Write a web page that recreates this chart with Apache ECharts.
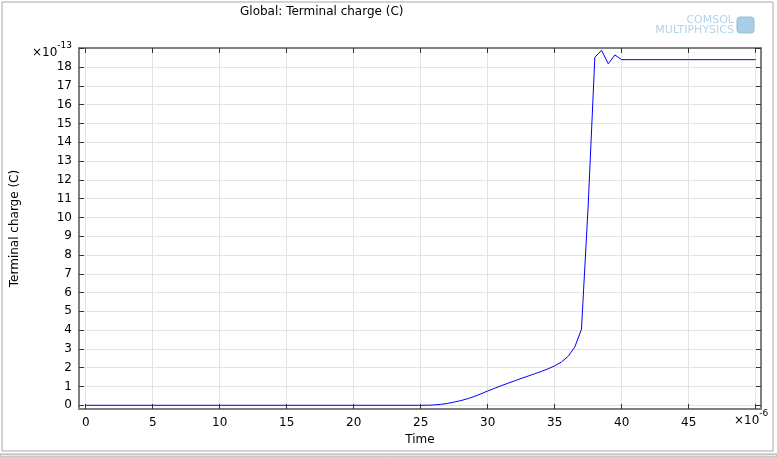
<!DOCTYPE html>
<html>
<head>
<meta charset="utf-8">
<script src="https://cdn.jsdelivr.net/npm/echarts@6/dist/echarts.min.js"></script>
<style>
  html, body { margin: 0; padding: 0; background: #fff; }
  #chart-container { width: 777px; height: 457px; }
</style>
</head>
<body>
<div id="chart-container"></div>
<script>
// time in 1e-6 s, charge in 1e-13 C
const times = [0, 25, 25.5, 26, 26.5, 27, 27.5, 28, 28.5, 29, 29.5, 30, 30.5, 31, 31.5, 32, 32.5,
  33, 33.5, 34, 34.5, 35, 35.5, 36, 36.5, 37, 37.5, 38, 38.5, 39, 39.5, 40, 45, 50];
const charges = [0, 0, 0.005, 0.02, 0.05, 0.1, 0.17, 0.25, 0.35, 0.47, 0.61, 0.76, 0.9, 1.04, 1.17, 1.3, 1.43,
  1.55, 1.68, 1.8, 1.94, 2.1, 2.3, 2.6, 3.1, 4.05, 10.6, 18.53, 18.9, 18.18, 18.65, 18.4, 18.4, 18.4];
const xTicks = [0, 5, 10, 15, 20, 25, 30, 35, 40, 45, 50];
const xLabels = [0, 5, 10, 15, 20, 25, 30, 35, 40, 45];
const yTicks = [0, 1, 2, 3, 4, 5, 6, 7, 8, 9, 10, 11, 12, 13, 14, 15, 16, 17, 18, 19];
const yLabels = [0, 1, 2, 3, 4, 5, 6, 7, 8, 9, 10, 11, 12, 13, 14, 15, 16, 17, 18];

const start = () => {
  const chartDom = document.getElementById('chart-container');
  const myChart = echarts.init(chartDom, null, { renderer: 'canvas' });
  const font = 'DejaVu Sans';
  const frame = { show: true, onZero: false, lineStyle: { color: '#808080', width: 2 } };
  const grid = { show: true, lineStyle: { color: '#e3e3e3', width: 1 } };

  const xBase = {
    type: 'value',
    min: -0.5,
    max: 50.4,
    axisLine: frame,
    axisTick: { show: true, inside: true, length: 5, lineStyle: { color: '#333' }, customValues: xTicks },
  };
  const yBase = {
    type: 'value',
    min: -0.197,
    max: 19.02,
    axisLine: frame,
    axisTick: { show: true, inside: true, length: 5, lineStyle: { color: '#333' }, customValues: yTicks },
  };

  const option = {
    animation: false,
    backgroundColor: '#fff',
    textStyle: { fontFamily: font },
    grid: { left: 79, right: 16, top: 48, bottom: 48 },
    xAxis: [
      Object.assign({}, xBase, {
        position: 'bottom',
        name: 'Time',
        nameLocation: 'middle',
        nameGap: 22,
        nameTextStyle: { fontFamily: font, fontSize: 12, color: '#000' },
        splitLine: grid,
        axisLabel: { customValues: xLabels, margin: 8, fontFamily: font, fontSize: 12, color: '#000' }
      }),
      Object.assign({}, xBase, {
        position: 'top',
        splitLine: { show: false },
        axisLabel: { show: false }
      })
    ],
    yAxis: [
      Object.assign({}, yBase, {
        position: 'left',
        name: 'Terminal charge (C)',
        nameLocation: 'middle',
        nameGap: 58,
        nameTextStyle: { fontFamily: font, fontSize: 12, color: '#000' },
        splitLine: grid,
        axisLabel: { customValues: yLabels, margin: 7, fontFamily: font, fontSize: 12, color: '#000' }
      }),
      Object.assign({}, yBase, {
        position: 'right',
        splitLine: { show: false },
        axisLabel: { show: false }
      })
    ],
    graphic: [
      {
        type: 'rect',
        shape: { x: 2, y: 2, width: 771, height: 449 },
        style: { fill: 'none', stroke: '#a8a8a8', lineWidth: 1 },
        silent: true
      },
      {
        type: 'rect',
        shape: { x: 0, y: 454, width: 777, height: 3 },
        style: { fill: '#e8e8e8', stroke: '#a8a8a8', lineWidth: 1 },
        silent: true
      },
      {
        type: 'text',
        left: 240,
        top: 6,
        style: { text: 'Global: Terminal charge (C)', fontFamily: font, fontSize: 12, fill: '#000' }
      },
      {
        type: 'text',
        left: 32,
        top: 41,
        style: {
          text: '{a|×10}{b|-13}',
          rich: {
            a: { fontFamily: font, fontSize: 12, fill: '#000', padding: [6, 0, 0, 0] },
            b: { fontFamily: font, fontSize: 9, fill: '#000', verticalAlign: 'top' }
          }
        }
      },
      {
        type: 'text',
        left: 734,
        top: 409,
        style: {
          text: '{a|×10}{b|-6}',
          rich: {
            a: { fontFamily: font, fontSize: 12, fill: '#000', padding: [6, 0, 0, 0] },
            b: { fontFamily: font, fontSize: 9, fill: '#000', verticalAlign: 'top' }
          }
        }
      },
      {
        type: 'text',
        right: 43,
        top: 15,
        style: { text: 'COMSOL', fontFamily: font, fontSize: 11, fill: '#b3d5ea' }
      },
      {
        type: 'text',
        right: 43,
        top: 25,
        style: { text: 'MULTIPHYSICS', fontFamily: font, fontSize: 11, fill: '#b3d5ea' }
      },
      {
        type: 'rect',
        shape: { x: 737, y: 17, width: 17, height: 16, r: 3 },
        style: { fill: '#a9cfe4', stroke: '#8dbfdb' },
        silent: true
      }
    ],
    series: [
      {
        type: 'line',
        xAxisIndex: 0,
        yAxisIndex: 0,
        data: times.map((t, i) => [t, charges[i]]),
        showSymbol: false,
        lineStyle: { color: '#0000ff', width: 1 },
        itemStyle: { color: '#0000ff' }
      }
    ]
  };
  myChart.setOption(option);
};

start();
</script>
</body>
</html>
